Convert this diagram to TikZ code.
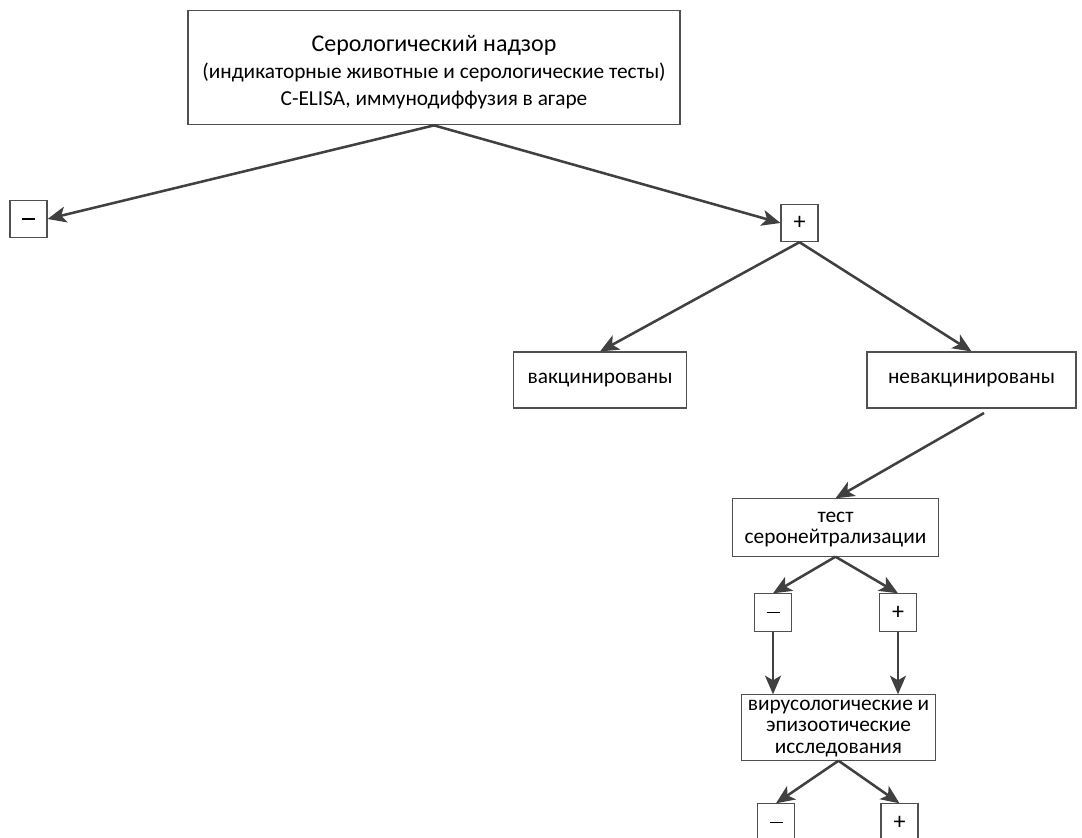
\documentclass[tikz,border=0pt]{standalone}
\usepackage{fontspec}
\setmainfont{Carlito}
\usetikzlibrary{arrows.meta}
\definecolor{linec}{HTML}{404040}
\definecolor{boxc}{HTML}{505050}
\newcommand{\minussign}{\rule{9.75pt}{1.1pt}}
\begin{document}
\begin{tikzpicture}[x=0.75pt,y=-0.75pt,
  box/.style={draw=boxc,line width=0.8pt,fill=white,inner sep=0pt,align=center,font=\fontsize{16pt}{16.3pt}\selectfont},
  txt/.style={inner sep=0pt,align=center,font=\fontsize{16pt}{16.3pt}\selectfont},
  sign/.style={box,minimum width=27.75pt,minimum height=28pt,font=\fontsize{18pt}{18pt}\selectfont},
  conn/.style={draw=linec,line width=1.9pt,-{Stealth[length=14pt,width=12pt,inset=3.5pt]}}]
\useasboundingbox (0,0) rectangle (1082,838);
\clip (0,0) rectangle (1082,838);
\node[box,minimum width=369pt,minimum height=86pt] (top) at (434,67.5) {};
\node[txt,font=\fontsize{16pt}{20pt}\selectfont] (toptxt) at (434,72) {{\fontsize{18pt}{20pt}\selectfont Серологический надзор}\\(индикаторные животные и серологические тесты)\\C-ELISA, иммунодиффузия в агаре};
\node[sign] (m1) at (28.5,219) {\minussign};
\node[sign] (p1) at (799.5,223) {+};
\node[box,minimum width=130pt,minimum height=42pt] (vac) at (600,380) {вакцинированы};
\node[box,minimum width=156.75pt,minimum height=42pt] (nvac) at (971.5,380) {невакцинированы};
\node[box,minimum width=155pt,minimum height=43pt] (test) at (835.5,527.5) {};
\node[txt] (testtxt) at (835.5,529.5) {тест\\серонейтрализации};
\node[sign] (m2) at (773,612.5) {\minussign};
\node[sign] (p2) at (898,612.5) {+};
\node[box,minimum width=146pt,minimum height=49pt] (res) at (838.5,727.5) {};
\node[txt] (restxt) at (838.5,728.5) {вирусологические и\\эпизоотические\\исследования};
\node[sign] (m3) at (776,822.5) {\minussign};
\node[sign] (p3) at (899.5,822.5) {+};
\coordinate (c1) at (984,413);
\draw[conn] (top.south) -- (m1.east);
\draw[conn] (top.south) -- (p1.west);
\draw[conn] (p1.south) -- (vac.north);
\draw[conn] (p1.south) -- (nvac.north);
\draw[conn] (c1) -- (test.north);
\draw[conn] (test.south) -- (m2.north);
\draw[conn] (test.south) -- (p2.north);
\draw[conn] (m2.south) -- (m2.south|-res.north);
\draw[conn] (p2.south) -- (p2.south|-res.north);
\draw[conn] (res.south) -- (m3.north);
\draw[conn] (res.south) -- (p3.north);
\end{tikzpicture}
\end{document}
